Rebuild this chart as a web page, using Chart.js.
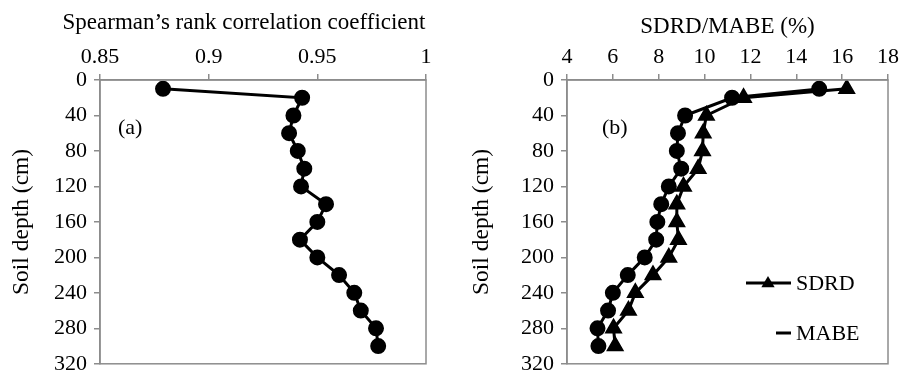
<!DOCTYPE html>
<html>
<head>
<meta charset="utf-8">
<script src="https://cdn.jsdelivr.net/npm/chart.js@4"></script>
<style>
  body { margin: 0; background: #fff; }
  .wrap { position: absolute; top: 0; height: 384px; }
</style>
</head>
<body>
<div class="wrap" style="left:0;width:450px"><canvas id="chart-a"></canvas></div>
<div class="wrap" style="left:450px;width:453px"><canvas id="chart-b"></canvas></div>
<script>
// soil depth of each layer (cm)
var depths = [10, 20, 40, 60, 80, 100, 120, 140, 160, 180, 200, 220, 240, 260, 280, 300];
// (a) Spearman's rank correlation coefficient
var spearman = [0.879, 0.943, 0.939, 0.937, 0.941, 0.944, 0.9425, 0.954, 0.950, 0.942, 0.950, 0.960, 0.967, 0.970, 0.977, 0.978];
// (b) SDRD and MABE (%)
var sdrd = [16.2, 11.7, 10.08, 9.94, 9.91, 9.72, 9.08, 8.79, 8.79, 8.86, 8.44, 7.75, 6.98, 6.68, 6.03, 6.1];
var mabe = [15.0, 11.2, 9.15, 8.84, 8.79, 8.98, 8.44, 8.11, 7.94, 7.89, 7.39, 6.65, 6.0, 5.79, 5.33, 5.37];

var FONT = 'Liberation Serif';
var GREY = '#8c8c8c';
Chart.defaults.font.family = FONT;
Chart.defaults.font.size = 22;
Chart.defaults.color = '#000';

function pts(xs) {
    return xs.map(function (v, i) { return { x: v, y: depths[i] }; });
}

// grey box round the plot area, panel tag, wide title and the little legend
var frame = {
    id: 'frame',
    afterDraw: function (chart, args, opts) {
        var a = chart.chartArea, c = chart.ctx;
        c.save();
        c.strokeStyle = GREY;
        c.lineWidth = 1.5;
        c.strokeRect(a.left, a.top, a.right - a.left, a.bottom - a.top);
        c.fillStyle = '#000';
        c.textBaseline = 'middle';
        if (opts.title) {
            // wider than the plot, so Chart.js would squeeze it
            c.font = '23px "' + FONT + '"';
            c.textAlign = 'center';
            c.fillText(opts.title.text, opts.title.x, opts.title.y);
            c.textAlign = 'left';
        }
        c.font = '22px "' + FONT + '"';
        c.fillText(opts.tag, a.left + opts.tagX, a.top + opts.tagY);
        if (opts.legend) {
            var L = opts.legend;
            c.strokeStyle = '#000';
            c.lineWidth = 3;
            // SDRD: line with triangle
            c.beginPath(); c.moveTo(L.x, L.y1); c.lineTo(L.x + 45, L.y1); c.stroke();
            var tx = L.x + 22, r = 7;
            c.beginPath();
            c.moveTo(tx, L.y1 - r);
            c.lineTo(tx + r * 0.95, L.y1 + r * 0.6);
            c.lineTo(tx - r * 0.95, L.y1 + r * 0.6);
            c.closePath(); c.fill();
            c.fillText('SDRD', L.x + 50, L.y1 + 1);
            // MABE: short line only
            c.beginPath(); c.moveTo(L.x + 30, L.y2); c.lineTo(L.x + 45, L.y2); c.stroke();
            c.fillText('MABE', L.x + 50, L.y2 + 1);
        }
        c.restore();
    }
};

function depthAxis(width, titlePad) {
    return {
        type: 'linear',
        reverse: true,
        min: 0,
        max: 320,
        afterFit: function (s) { s.width = width; },
        ticks: { stepSize: 40, padding: 7 },
        grid: { drawOnChartArea: false, tickLength: 6, color: GREY, lineWidth: 1.5 },
        border: { color: GREY, width: 1.5 },
        title: { display: true, text: 'Soil depth (cm)', font: { size: 23.5 }, padding: { top: titlePad, bottom: 0 } }
    };
}

function topAxis(min, max, step, title, titleSize, titlePad) {
    return {
        type: 'linear',
        position: 'top',
        min: min,
        max: max,
        afterFit: function (s) { s.height = 80; },
        ticks: {
            stepSize: step,
            padding: 4,
            callback: function (v) { return String(+v.toFixed(2)); }
        },
        grid: { drawOnChartArea: false, tickLength: 6, color: GREY, lineWidth: 1.5 },
        border: { color: GREY, width: 1.5 },
        title: { display: !!title, text: title, font: { size: titleSize }, padding: { top: titlePad, bottom: 0 } }
    };
}

var line = { showLine: true, borderColor: '#000', backgroundColor: '#000', borderWidth: 3 };

new Chart(document.getElementById('chart-a'), {
    type: 'scatter',
    data: {
        datasets: [Object.assign({
            label: 'Spearman',
            data: pts(spearman),
            pointStyle: 'circle',
            pointRadius: 6.5
        }, line)]
    },
    options: {
        responsive: true,
        maintainAspectRatio: false,
        animation: false,
        layout: { padding: { left: 0, top: 0, right: 24, bottom: 9 } },
        plugins: {
            legend: { display: false },
            tooltip: { enabled: false },
            frame: {
                tag: '(a)', tagX: 18, tagY: 48,
                title: { text: 'Spearman\u2019s rank correlation coefficient', x: 244, y: 23 }
            }
        },
        scales: {
            x: topAxis(0.85, 1, 0.05, '', 22, 0),
            y: depthAxis(100, 8)
        }
    },
    plugins: [frame]
});

new Chart(document.getElementById('chart-b'), {
    type: 'scatter',
    data: {
        datasets: [
            Object.assign({ label: 'SDRD', data: pts(sdrd), pointStyle: 'triangle', pointRadius: 7.5 }, line),
            Object.assign({ label: 'MABE', data: pts(mabe), pointStyle: 'circle', pointRadius: 6.5 }, line)
        ]
    },
    options: {
        responsive: true,
        maintainAspectRatio: false,
        animation: false,
        layout: { padding: { left: 0, top: 0, right: 10, bottom: 9 } },
        plugins: {
            legend: { display: false },
            tooltip: { enabled: false },
            frame: { tag: '(b)', tagX: 35, tagY: 48, legend: { x: 296, y1: 283, y2: 333 } }
        },
        scales: {
            x: topAxis(4, 18, 2, 'SDRD/MABE (%)', 23, 13),
            y: depthAxis(117, 18)
        }
    },
    plugins: [frame]
});
</script>
</body>
</html>
